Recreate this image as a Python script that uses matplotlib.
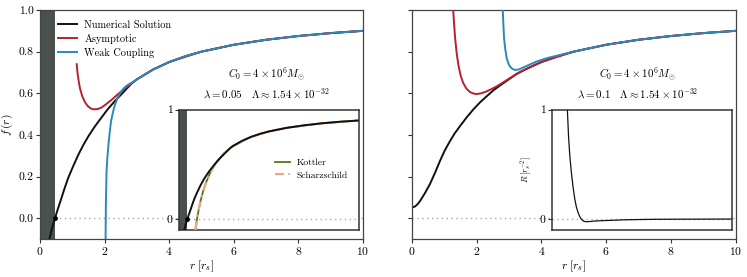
"""
Horizon / metric function plot: numerical solution vs asymptotic and weak coupling.
"""

import numpy as np
import matplotlib
matplotlib.use("Agg")
import matplotlib.pyplot as plt

plt.rcParams["font.family"] = "serif"
plt.rcParams["font.serif"] = ["cmr10"]
plt.rcParams["mathtext.fontset"] = "cm"
plt.rcParams["axes.formatter.use_mathtext"] = True
plt.rcParams["axes.unicode_minus"] = False

STYLE = {
    "num":    "#111111",
    "asym":   "#b8202e",
    "weak":   "#2a88bb",
    "band":   "#4a504c",
    "kott":   "#4a7a1c",
    "schw":   "#f4a28a",
    "zero":   "#aaaaaa",
}

# --- lambda = 0.05 (left panel) ---
r_num_a = [0.29, 0.38, 0.465, 0.55, 0.65, 0.76, 0.877, 1.0, 1.19, 1.35, 1.50, 1.70, 1.91, 2.10, 2.32,
           2.55, 2.84, 3.0, 3.5, 4.0, 4.5, 5.0, 6.0, 7.0, 8.0, 9.0, 10.0]
f_num_a = [-0.10, -0.045, 0.0, 0.043, 0.090, 0.143, 0.195, 0.24, 0.306, 0.354, 0.394, 0.441, 0.485, 0.524, 0.563,
           0.600, 0.648, 0.667, 0.714, 0.75, 0.778, 0.80, 0.833, 0.857, 0.875, 0.889, 0.90]

r_asym_a = [1.135, 1.16, 1.20, 1.24, 1.31, 1.39, 1.47, 1.56, 1.65, 1.78, 1.91, 2.05, 2.22, 2.40, 2.53, 2.70,
            2.84, 3.0, 3.5, 4.0, 5.0, 6.0, 7.0, 8.0, 9.0, 10.0]
f_asym_a = [0.74, 0.70, 0.655, 0.622, 0.585, 0.558, 0.540, 0.528, 0.523, 0.524, 0.532, 0.548, 0.569, 0.594,
            0.611, 0.632, 0.648, 0.667, 0.714, 0.75, 0.80, 0.833, 0.857, 0.875, 0.889, 0.90]

r_weak_a = [2.03, 2.04, 2.06, 2.09, 2.12, 2.16, 2.20, 2.26, 2.32, 2.40, 2.48, 2.58, 2.68, 2.78, 2.89, 3.0,
            3.5, 4.0, 4.5, 5.0, 6.0, 7.0, 8.0, 9.0, 10.0]
f_weak_a = [-0.10, 0.067, 0.226, 0.30, 0.354, 0.415, 0.466, 0.51, 0.545, 0.577, 0.60, 0.622, 0.636, 0.646,
            0.655, 0.667, 0.714, 0.75, 0.778, 0.80, 0.833, 0.857, 0.875, 0.889, 0.90]

r_horizon = 0.465

# inset: Kottler / Schwarzschild
r_ref = [0.91, 1.0, 1.1, 1.2, 1.35, 1.5, 1.75, 2.0, 2.5, 3.0, 4.0, 5.0, 6.0, 8.0, 10.0]
f_kott = [-0.10, 0.0, 0.091, 0.167, 0.259, 0.333, 0.429, 0.50, 0.60, 0.667, 0.75, 0.80, 0.833, 0.875, 0.90]
f_schw = [-0.10, 0.0, 0.091, 0.167, 0.259, 0.333, 0.429, 0.50, 0.60, 0.667, 0.75, 0.80, 0.833, 0.875, 0.90]

# --- lambda = 0.1 (right panel) ---
r_num_b = [0.0, 0.1, 0.18, 0.26, 0.40, 0.56, 0.72, 0.87, 1.02, 1.18, 1.33, 1.49, 1.70, 1.90, 2.10, 2.31,
           2.52, 2.73, 3.0, 3.24, 3.5, 4.0, 4.5, 5.0, 6.0, 7.0, 8.0, 9.0, 10.0]
f_num_b = [0.051, 0.056, 0.067, 0.083, 0.118, 0.163, 0.218, 0.274, 0.325, 0.37, 0.408, 0.442, 0.485, 0.522,
           0.555, 0.585, 0.614, 0.638, 0.667, 0.693, 0.714, 0.75, 0.778, 0.80, 0.833, 0.857, 0.875, 0.889, 0.90]

r_asym_b = [1.25, 1.28, 1.31, 1.34, 1.39, 1.44, 1.51, 1.59, 1.69, 1.80, 1.90, 2.0, 2.15, 2.31, 2.46, 2.62,
            2.80, 3.03, 3.34, 3.6, 4.0, 5.0, 6.0, 7.0, 8.0, 9.0, 10.0]
f_asym_b = [1.08, 1.0, 0.93, 0.865, 0.79, 0.737, 0.685, 0.649, 0.622, 0.606, 0.599, 0.596, 0.60, 0.609,
            0.62, 0.633, 0.65, 0.673, 0.702, 0.722, 0.75, 0.80, 0.833, 0.857, 0.875, 0.889, 0.90]

r_weak_b = [2.79, 2.81, 2.83, 2.85, 2.89, 2.93, 2.98, 3.03, 3.10, 3.19, 3.30, 3.40, 3.60, 3.86, 4.2, 4.6,
            5.0, 6.0, 7.0, 8.0, 9.0, 10.0]
f_weak_b = [1.08, 1.0, 0.93, 0.865, 0.81, 0.769, 0.745, 0.729, 0.718, 0.712, 0.714, 0.721, 0.735, 0.753,
            0.77, 0.785, 0.80, 0.833, 0.857, 0.875, 0.889, 0.90]

# inset: Ricci scalar
r_ricci = [0.80, 0.87, 0.94, 1.01, 1.09, 1.18, 1.28, 1.37, 1.46, 1.55, 1.64, 1.78, 1.92, 2.15, 2.39, 2.75,
           3.13, 4.0, 5.0, 6.0, 8.0, 10.0]
R_ricci = [1.35, 1.0, 0.739, 0.57, 0.43, 0.30, 0.185, 0.11, 0.061, 0.025, 0.0, -0.02, -0.025, -0.022,
           -0.018, -0.015, -0.013, -0.007, -0.004, -0.002, -0.001, 0.0]

x_ticks = [0, 2, 4, 6, 8, 10]
y_ticks = [0.0, 0.2, 0.4, 0.6, 0.8, 1.0]

txt_C0 = r"$C_0 = 4 \times 10^6 M_{\odot}$"
txt_lam = [r"$\lambda = 0.05 \quad \Lambda \approx 1.54 \times 10^{-32}$",
           r"$\lambda = 0.1 \quad \Lambda \approx 1.54 \times 10^{-32}$"]

W, H = 747, 277
fig = plt.figure(figsize=(W / 100, H / 100), dpi=100)


def box(x0, x1, y_top, y_bot):
    return [x0 / W, (H - y_bot) / H, (x1 - x0) / W, (y_bot - y_top) / H]


ax1 = fig.add_axes(box(40, 363, 10, 239))
ax2 = fig.add_axes(box(411.7, 735.7, 10, 239))
in1 = fig.add_axes(box(179, 359, 109.5, 230))
in2 = fig.add_axes(box(551.7, 731.7, 109.5, 230))

FS = 7.6     # legend / annotations
FT = 8.4     # tick labels
ZERO_LS = (0, (1, 2.5))

for ax in (ax1, ax2):
    ax.set_xlim(0, 10)
    ax.set_ylim(-0.1, 1.0)
    ax.set_xticks(x_ticks)
    ax.set_yticks(y_ticks)
    ax.tick_params(labelsize=FT, length=3, width=0.8, color="#333333", pad=1.5)
    ax.axhline(0, color=STYLE["zero"], ls=ZERO_LS, lw=1.0, zorder=1)
    ax.set_xlabel(r"$r\;[r_s]$", fontsize=FT, labelpad=1)
    for s in ax.spines.values():
        s.set_color("#444444")
        s.set_linewidth(0.9)

ax1.set_yticklabels([f"{v:.1f}" for v in y_ticks])
ax2.set_yticklabels([])
ax1.set_ylabel(r"$f\,(r)$", fontsize=FT, labelpad=3)

# --- Left panel ---
ax1.axvspan(0, r_horizon, color=STYLE["band"], lw=0, zorder=2)
ax1.plot(r_asym_a, f_asym_a, color=STYLE["asym"], lw=1.4, label="Asymptotic", zorder=3)
ax1.plot(r_weak_a, f_weak_a, color=STYLE["weak"], lw=1.4, label="Weak Coupling", zorder=4)
ax1.plot(r_num_a, f_num_a, color=STYLE["num"], lw=1.4, label="Numerical Solution", zorder=2.5)
ax1.plot([r_horizon], [0], "o", color="black", ms=2.5, zorder=5)

h, l = ax1.get_legend_handles_labels()
order = [2, 0, 1]
leg1 = ax1.legend([h[i] for i in order], [l[i] for i in order], loc="upper left",
                  bbox_to_anchor=(0.057, 0.955), frameon=False, fontsize=FS,
                  handlelength=1.75, handletextpad=0.7, labelspacing=0.38,
                  borderpad=0.0, borderaxespad=0.0)

ann = [ax1.text(7.02, 0.69, txt_C0, ha="center", va="center", fontsize=FS),
       ax1.text(7.02, 0.60, txt_lam[0], ha="center", va="center", fontsize=FS)]

# --- Left inset ---
in1.set_xlim(0, 10)
in1.set_ylim(-0.1, 1.0)
in1.axvspan(0, r_horizon, color=STYLE["band"], lw=0, zorder=2)
in1.axhline(0, color=STYLE["zero"], ls=ZERO_LS, lw=1.0, zorder=1)
in1.plot(r_ref, f_kott, color=STYLE["kott"], lw=1.3, label="Kottler", zorder=3)
in1.plot(r_ref, f_schw, color=STYLE["schw"], lw=1.6, ls=(0, (4, 2, 1, 2)),
         label="Scharzschild", zorder=3.5)
in1.plot(r_num_a, f_num_a, color=STYLE["num"], lw=1.4, zorder=4)
in1.plot([r_horizon], [0], "o", color="black", ms=2.5, zorder=5)
leg2 = in1.legend(loc="upper left", bbox_to_anchor=(0.535, 0.595), frameon=False, fontsize=FS - 0.5,
                  handlelength=1.5, handletextpad=0.7, labelspacing=0.35,
                  borderpad=0.0, borderaxespad=0.0)

# --- Right panel ---
ax2.plot(r_asym_b, f_asym_b, color=STYLE["asym"], lw=1.4, zorder=3)
ax2.plot(r_weak_b, f_weak_b, color=STYLE["weak"], lw=1.4, zorder=4)
ax2.plot(r_num_b, f_num_b, color=STYLE["num"], lw=1.4, zorder=2.5)
ann += [ax2.text(6.97, 0.69, txt_C0, ha="center", va="center", fontsize=FS),
        ax2.text(6.97, 0.60, txt_lam[1], ha="center", va="center", fontsize=FS)]

# --- Right inset ---
in2.set_xlim(0, 10)
in2.set_ylim(-0.1, 1.0)
in2.axhline(0, color=STYLE["zero"], ls=ZERO_LS, lw=1.0, zorder=1)
in2.plot(r_ricci, R_ricci, color=STYLE["num"], lw=0.9, zorder=3)
in2.set_ylabel(r"$R\,[r_s^{-2}]$", fontsize=FS - 1.2, labelpad=4)

for ax in (in1, in2):
    ax.set_xticks([])
    ax.set_yticks([0, 1])
    ax.set_yticklabels(["0", "1"])
    ax.tick_params(labelsize=FT, length=3, width=0.8, color="#333333", pad=1.5)
    for s in ax.spines.values():
        s.set_color("#333333")
        s.set_linewidth(1.1)

# match text widths measured on the reference (pixels)
fig.canvas.draw()
rend = fig.canvas.get_renderer()


def fit(texts, ref_text, target_px):
    w = ref_text.get_window_extent(rend).width
    s = ref_text.get_fontsize() * target_px / w
    for t in texts:
        t.set_fontsize(s)


fit(leg1.get_texts(), leg1.get_texts()[0], 87)
fit(leg2.get_texts(), leg2.get_texts()[1], 52)
fit(ann, ann[1], 127)

fig.savefig("out.png", dpi=100)
